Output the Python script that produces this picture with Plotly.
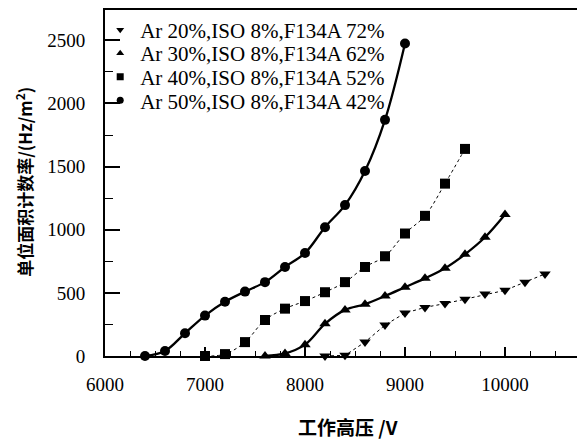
import plotly.graph_objects as go

# ---- data ----
v_ar20 = [8200, 8400, 8600, 8800, 9000, 9200, 9400, 9600, 9800, 10000, 10200, 10400]
r_ar20 = [0, 5, 110, 245, 340, 385, 415, 450, 490, 520, 585, 650]

v_ar30 = [7600, 7800, 8000, 8200, 8400, 8600, 8800, 9000, 9200, 9400, 9600, 9800, 10000]
r_ar30 = [0, 20, 90, 255, 365, 410, 475, 545, 615, 695, 805, 940, 1120]

v_ar40 = [7000, 7200, 7400, 7600, 7800, 8000, 8200, 8400, 8600, 8800, 9000, 9200, 9400, 9600]
r_ar40 = [0, 15, 110, 285, 375, 435, 505, 585, 705, 790, 970, 1110, 1365, 1640]

v_ar50 = [6400, 6600, 6800, 7000, 7200, 7400, 7600, 7800, 8000, 8200, 8400, 8600, 8800, 9000]
r_ar50 = [0, 40, 180, 320, 430, 510, 585, 705, 815, 1020, 1195, 1465, 1870, 2475]

names = ["Ar 20%,ISO 8%,F134A 72%", "Ar 30%,ISO 8%,F134A 62%",
         "Ar 40%,ISO 8%,F134A 52%", "Ar 50%,ISO 8%,F134A 42%"]
x_ticks = [6000, 7000, 8000, 9000, 10000]
x_labels = ["6000", "7000", "8000", "9000", "10000"]
y_ticks = [0, 500, 1000, 1500, 2000, 2500]
y_labels = ["0", "500", "1000", "1500", "2000", "2500"]
x_title = "工作高压 /V"
y_title = "单位面积计数率/(Hz/m<sup>2</sup>)"

series = [
    (v_ar20, r_ar20, "triangle-down", dict(color="black", width=1, dash="dot")),
    (v_ar30, r_ar30, "triangle-up", dict(color="black", width=2.3, shape="spline")),
    (v_ar40, r_ar40, "square", dict(color="black", width=1, dash="dot", shape="spline")),
    (v_ar50, r_ar50, "circle", dict(color="black", width=2.3, shape="spline")),
]
legend_ids = ["legend", "legend2", "legend3", "legend4"]
legend_rows_y = [0.942, 0.874, 0.806, 0.738]

fig = go.Figure()
for (xs, ys, sym, ln), nm in zip(series, names):
    fig.add_trace(go.Scatter(x=xs, y=ys, mode="lines+markers", name=nm,
                             marker=dict(symbol=sym, size=10, color="black"),
                             line=ln, showlegend=False, cliponaxis=False))
for (xs, ys, sym, ln), nm, lg in zip(series, names, legend_ids):
    fig.add_trace(go.Scatter(x=[None], y=[None], mode="markers", name=nm,
                             marker=dict(symbol=sym, size=7, color="black"),
                             showlegend=True, legend=lg))

leg_font = dict(family="Liberation Serif", size=21, color="black")
legends = {}
for lg, yy in zip(legend_ids, legend_rows_y):
    legends[lg] = dict(x=-0.010, y=yy, xanchor="left", yanchor="middle",
                       font=leg_font, bgcolor="rgba(0,0,0,0)", itemwidth=30)

tick_font = dict(family="Liberation Serif", size=19, color="black")
fig.update_layout(
    width=577, height=434,
    margin=dict(l=97, r=0, t=2, b=86),
    paper_bgcolor="white", plot_bgcolor="white",
    font=dict(family="Liberation Serif", color="black"),
    **legends,
    xaxis=dict(range=[6000, 10800], tickvals=x_ticks, ticktext=x_labels,
               ticks="inside", ticklen=9,
               tickwidth=1.5, tickcolor="black", showline=True, linecolor="black",
               linewidth=2, mirror=True, showgrid=False, zeroline=False,
               tickfont=tick_font, ticklabelstandoff=10, automargin=False,
               minor=dict(dtick=250, tick0=6000, ticks="inside", ticklen=5,
                          tickcolor="black", tickwidth=1, showgrid=False)),
    yaxis=dict(range=[0, 2740], tickvals=y_ticks, ticktext=y_labels,
               ticks="inside", ticklen=15,
               tickwidth=1.5, tickcolor="black", showline=True, linecolor="black",
               linewidth=2, mirror=False, showgrid=False, zeroline=False,
               tickfont=tick_font, ticklabelstandoff=14, automargin=False,
               minor=dict(dtick=250, tick0=0, ticks="inside", ticklen=8,
                          tickcolor="black", tickwidth=1, showgrid=False)),
    annotations=[
        dict(text="<b>" + x_title + "</b>", xref="paper", yref="paper",
             x=0.506, y=-0.205, yanchor="middle", xanchor="center", showarrow=False,
             font=dict(family="Noto Sans CJK SC", size=19, color="black")),
        dict(text="<b>" + y_title + "</b>", xref="paper", yref="paper",
             x=-0.169, y=0.503, xanchor="center", yanchor="middle", textangle=-90,
             showarrow=False,
             font=dict(family="Noto Sans CJK SC", size=17, color="black")),
    ],
)
fig.write_html("out.html")
